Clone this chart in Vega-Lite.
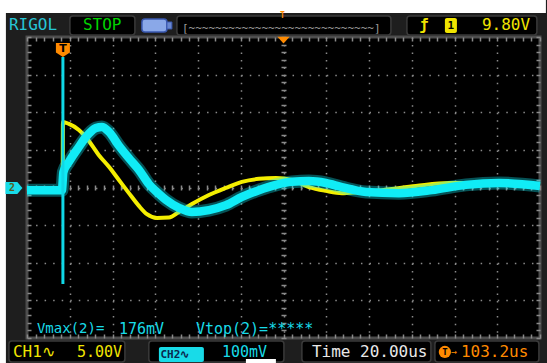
{
  "$schema": "https://vega.github.io/schema/vega-lite/v6.json",
  "width": 513,
  "height": 301,
  "autosize": {"type": "none"},
  "padding": {"left": 27, "top": 37, "right": 7, "bottom": 25},
  "background": "#1e1e1e",
  "view": {"fill": "#000000", "stroke": "#4d4d4d", "strokeWidth": 3},
  "config": {
    "axis": {"labels": false, "domain": false, "ticks": false, "grid": false, "titleOpacity": 0},
    "text": {"font": "DejaVu Sans Mono", "fontSize": 16, "baseline": "middle", "align": "left"}
  },
  "resolve": {"axis": {"x": "independent", "y": "independent"}},
  "data": {"values": [{}]},
  "datasets": {
    "ch1": [
      {"t": -16.8, "div": -0.01}, {"t": -0.1, "div": -0.01}, {"t": 0, "div": 1.74}, {"t": 2.81, "div": 1.69},
      {"t": 7.49, "div": 1.53}, {"t": 10.76, "div": 1.34}, {"t": 16.84, "div": 0.86}, {"t": 21.52, "div": 0.55},
      {"t": 26.2, "div": 0.2}, {"t": 30.88, "div": -0.15}, {"t": 35.56, "div": -0.49}, {"t": 39.3, "div": -0.71},
      {"t": 43.98, "div": -0.81}, {"t": 49.59, "div": -0.8}, {"t": 54.27, "div": -0.65}, {"t": 60.35, "div": -0.44},
      {"t": 68.3, "div": -0.2}, {"t": 76.26, "div": -0.01}, {"t": 83.74, "div": 0.15}, {"t": 91.7, "div": 0.23},
      {"t": 99.65, "div": 0.25}, {"t": 107.1, "div": 0.2}, {"t": 115.1, "div": 0.01}, {"t": 123.0, "div": -0.09},
      {"t": 130.5, "div": -0.15}, {"t": 138.5, "div": -0.12}, {"t": 149.2, "div": -0.07}, {"t": 165.1, "div": 0.04},
      {"t": 180.6, "div": 0.12}, {"t": 204.0, "div": 0.12}, {"t": 223.2, "div": 0.07}
    ],
    "ch2": [
      {"t": -16.8, "div": -0.07}, {"t": -0.47, "div": -0.07}, {"t": 0.23, "div": 0.41}, {"t": 2.81, "div": 0.68},
      {"t": 7.49, "div": 1.08}, {"t": 10.76, "div": 1.34}, {"t": 15.44, "div": 1.58}, {"t": 18.25, "div": 1.61},
      {"t": 21.52, "div": 1.48}, {"t": 26.2, "div": 1.11}, {"t": 30.88, "div": 0.78}, {"t": 35.56, "div": 0.47},
      {"t": 40.23, "div": 0.09}, {"t": 44.91, "div": -0.17}, {"t": 48.19, "div": -0.33}, {"t": 54.27, "div": -0.54},
      {"t": 60.35, "div": -0.65}, {"t": 68.3, "div": -0.6}, {"t": 76.26, "div": -0.47}, {"t": 83.74, "div": -0.25},
      {"t": 91.7, "div": -0.07}, {"t": 99.65, "div": 0.07}, {"t": 107.1, "div": 0.15}, {"t": 115.1, "div": 0.17},
      {"t": 123.0, "div": 0.12}, {"t": 130.5, "div": 0.01}, {"t": 141.8, "div": -0.12}, {"t": 157.2, "div": -0.15},
      {"t": 172.6, "div": -0.07}, {"t": 188.5, "div": 0.07}, {"t": 204.0, "div": 0.12}, {"t": 223.2, "div": 0.04}
    ]
  },
  "layer": [
    {"mark": {"type": "rect", "fill": "#ffffff"}, "encoding": {"x": {"datum": -29.94, "type": "quantitative"}, "x2": {"datum": 225.96}, "y": {"datum": 4.983, "type": "quantitative"}, "y2": {"datum": 4.638}}},
    {"mark": {"type": "rect", "fill": "#ffffff"}, "encoding": {"x": {"datum": -29.94, "type": "quantitative"}, "x2": {"datum": -26.67}, "y": {"datum": 4.983, "type": "quantitative"}, "y2": {"datum": -4.664}}},
    {"mark": {"type": "rect", "fill": "#000000", "stroke": "#3a3a3a", "strokeWidth": 1.5, "cornerRadius": 3}, "encoding": {"x": {"datum": 3.27, "type": "quantitative"}, "x2": {"datum": 33.68}, "y": {"datum": 4.558, "type": "quantitative"}, "y2": {"datum": 4.053}}},
    {"mark": {"type": "rect", "fill": "#000000", "stroke": "#3a3a3a", "strokeWidth": 1.5, "cornerRadius": 3}, "encoding": {"x": {"datum": 53.33, "type": "quantitative"}, "x2": {"datum": 153.45}, "y": {"datum": 4.558, "type": "quantitative"}, "y2": {"datum": 4.053}}},
    {"mark": {"type": "rect", "fill": "#000000", "stroke": "#3a3a3a", "strokeWidth": 1.5, "cornerRadius": 3}, "encoding": {"x": {"datum": 160.94, "type": "quantitative"}, "x2": {"datum": 221.75}, "y": {"datum": 4.558, "type": "quantitative"}, "y2": {"datum": 4.053}}},
    {"mark": {"type": "rect", "fill": "#000000", "stroke": "#3a3a3a", "strokeWidth": 1.5, "cornerRadius": 3}, "encoding": {"x": {"datum": -25.26, "type": "quantitative"}, "x2": {"datum": 29.0}, "y": {"datum": -4.08, "type": "quantitative"}, "y2": {"datum": -4.638}}},
    {"mark": {"type": "rect", "fill": "#000000", "stroke": "#3a3a3a", "strokeWidth": 1.5, "cornerRadius": 3}, "encoding": {"x": {"datum": 40.2, "type": "quantitative"}, "x2": {"datum": 103.4}, "y": {"datum": -4.08, "type": "quantitative"}, "y2": {"datum": -4.638}}},
    {"mark": {"type": "rect", "fill": "#000000", "stroke": "#3a3a3a", "strokeWidth": 1.5, "cornerRadius": 3}, "encoding": {"x": {"datum": 111.8, "type": "quantitative"}, "x2": {"datum": 172.16}, "y": {"datum": -4.08, "type": "quantitative"}, "y2": {"datum": -4.638}}},
    {"mark": {"type": "rect", "fill": "#000000", "stroke": "#3a3a3a", "strokeWidth": 1.5, "cornerRadius": 3}, "encoding": {"x": {"datum": 174.03, "type": "quantitative"}, "x2": {"datum": 222.69}, "y": {"datum": -4.08, "type": "quantitative"}, "y2": {"datum": -4.638}}},
    {"mark": {"type": "rect", "fill": "#8aa8e8", "stroke": "#3a58b0", "strokeWidth": 1.5, "cornerRadius": 3}, "encoding": {"x": {"datum": 36.96, "type": "quantitative"}, "x2": {"datum": 48.65}, "y": {"datum": 4.478, "type": "quantitative"}, "y2": {"datum": 4.133}}},
    {"mark": {"type": "rect", "fill": "#6a88d0", "stroke": "#3a58b0", "strokeWidth": 1}, "encoding": {"x": {"datum": 48.65, "type": "quantitative"}, "x2": {"datum": 50.99}, "y": {"datum": 4.399, "type": "quantitative"}, "y2": {"datum": 4.213}}},
    {"mark": {"type": "rect", "fill": "#f0e400", "cornerRadius": 2}, "encoding": {"x": {"datum": 178.71, "type": "quantitative"}, "x2": {"datum": 184.33}, "y": {"datum": 4.505, "type": "quantitative"}, "y2": {"datum": 4.106}}},
    {"mark": {"type": "rect", "fill": "#18dbe8", "cornerRadius": 2}, "encoding": {"x": {"datum": 44.91, "type": "quantitative"}, "x2": {"datum": 65.96}, "y": {"datum": -4.239, "type": "quantitative"}, "y2": {"datum": -4.638}}},
    {"mark": {"type": "rect", "fill": "#ffffff"}, "encoding": {"x": {"datum": 85.61, "type": "quantitative"}, "x2": {"datum": 99.65}, "y": {"datum": -4.558, "type": "quantitative"}, "y2": {"datum": -4.664}}},
    {
      "data": {"name": "ch1"},
      "mark": {"type": "line", "color": "#f4ee00", "strokeWidth": 4, "interpolate": "monotone"},
      "encoding": {
        "x": {"field": "t", "type": "quantitative", "title": null, "scale": {"domain": [-16.8, 223.2], "nice": false, "zero": false},
          "axis": {"orient": "bottom", "grid": true, "values": [3.2, 23.2, 43.2, 63.2, 83.2, 103.2, 123.2, 143.2, 163.2, 183.2, 203.2], "gridColor": "#8a8a8a", "gridWidth": 1.5, "gridDash": [1.5, 6.03], "gridOpacity": 1}},
        "y": {"field": "div", "type": "quantitative", "title": null, "scale": {"domain": [-4, 4], "nice": false, "zero": false},
          "axis": {"orient": "left", "grid": true, "values": [-3, -2, -1, 0, 1, 2, 3], "gridColor": "#8a8a8a", "gridWidth": 1.5, "gridDash": [1.5, 7.05], "gridOpacity": 1}}
      }
    },
    {
      "data": {"name": "ch2"},
      "mark": {"type": "line", "color": "#10ecf6", "strokeWidth": 13, "opacity": 0.35, "interpolate": "monotone"},
      "encoding": {
        "x": {"field": "t", "type": "quantitative", "title": null},
        "y": {"field": "div", "type": "quantitative", "title": null}
      }
    },
    {
      "data": {"name": "ch2"},
      "mark": {"type": "line", "color": "#10ecf6", "strokeWidth": 8.5, "interpolate": "monotone"},
      "encoding": {
        "x": {"field": "t", "type": "quantitative", "title": null,
          "axis": {"orient": "bottom", "offset": -153, "ticks": true, "tickSize": 5, "tickWidth": 1.5, "tickColor": "#8a8a8a",
            "values": [-16.8, -12.8, -8.8, -4.8, -0.8, 3.2, 7.2, 11.2, 15.2, 19.2, 23.2, 27.2, 31.2, 35.2, 39.2, 43.2, 47.2, 51.2, 55.2, 59.2, 63.2, 67.2, 71.2, 75.2, 79.2, 83.2, 87.2, 91.2, 95.2, 99.2, 103.2, 107.2, 111.2, 115.2, 119.2, 123.2, 127.2, 131.2, 135.2, 139.2, 143.2, 147.2, 151.2, 155.2, 159.2, 163.2, 167.2, 171.2, 175.2, 179.2, 183.2, 187.2, 191.2, 195.2, 199.2, 203.2, 207.2, 211.2, 215.2, 219.2, 223.2]}},
        "y": {"field": "div", "type": "quantitative", "title": null,
          "axis": {"orient": "left", "offset": -259, "ticks": true, "tickSize": 5, "tickWidth": 1.5, "tickColor": "#8a8a8a",
            "values": [-4, -3.8, -3.6, -3.4, -3.2, -3, -2.8, -2.6, -2.4, -2.2, -2, -1.8, -1.6, -1.4, -1.2, -1, -0.8, -0.6, -0.4, -0.2, 0, 0.2, 0.4, 0.6, 0.8, 1, 1.2, 1.4, 1.6, 1.8, 2, 2.2, 2.4, 2.6, 2.8, 3, 3.2, 3.4, 3.6, 3.8, 4]}}
      }
    },
    {
      "mark": {"type": "rule", "color": "#10d8e6", "strokeWidth": 3},
      "encoding": {
        "x": {"datum": 0, "type": "quantitative",
          "axis": {"orient": "top", "offset": -4, "ticks": true, "tickSize": 4, "tickWidth": 1.5, "tickColor": "#8a8a8a",
            "values": [-16.8, -12.8, -8.8, -4.8, -0.8, 3.2, 7.2, 11.2, 15.2, 19.2, 23.2, 27.2, 31.2, 35.2, 39.2, 43.2, 47.2, 51.2, 55.2, 59.2, 63.2, 67.2, 71.2, 75.2, 79.2, 83.2, 87.2, 91.2, 95.2, 99.2, 103.2, 107.2, 111.2, 115.2, 119.2, 123.2, 127.2, 131.2, 135.2, 139.2, 143.2, 147.2, 151.2, 155.2, 159.2, 163.2, 167.2, 171.2, 175.2, 179.2, 183.2, 187.2, 191.2, 195.2, 199.2, 203.2, 207.2, 211.2, 215.2, 219.2, 223.2]}},
        "y": {"datum": 3.468, "type": "quantitative",
          "axis": {"orient": "right", "offset": -4, "ticks": true, "tickSize": 4, "tickWidth": 1.5, "tickColor": "#8a8a8a",
            "values": [-4, -3.8, -3.6, -3.4, -3.2, -3, -2.8, -2.6, -2.4, -2.2, -2, -1.8, -1.6, -1.4, -1.2, -1, -0.8, -0.6, -0.4, -0.2, 0, 0.2, 0.4, 0.6, 0.8, 1, 1.2, 1.4, 1.6, 1.8, 2, 2.2, 2.4, 2.6, 2.8, 3, 3.2, 3.4, 3.6, 3.8, 4]}},
        "y2": {"datum": -2.565}
      }
    },
    {
      "mark": {"type": "point", "shape": "M-1,-1L1,-1L1,0.35L0,1L-1,0.35Z", "filled": true, "fill": "#ff8a00", "size": 196, "strokeWidth": 0, "opacity": 1},
      "encoding": {
        "x": {"datum": 0, "type": "quantitative",
          "axis": {"orient": "bottom", "offset": -4, "ticks": true, "tickSize": 4, "tickWidth": 1.5, "tickColor": "#8a8a8a",
            "values": [-16.8, -12.8, -8.8, -4.8, -0.8, 3.2, 7.2, 11.2, 15.2, 19.2, 23.2, 27.2, 31.2, 35.2, 39.2, 43.2, 47.2, 51.2, 55.2, 59.2, 63.2, 67.2, 71.2, 75.2, 79.2, 83.2, 87.2, 91.2, 95.2, 99.2, 103.2, 107.2, 111.2, 115.2, 119.2, 123.2, 127.2, 131.2, 135.2, 139.2, 143.2, 147.2, 151.2, 155.2, 159.2, 163.2, 167.2, 171.2, 175.2, 179.2, 183.2, 187.2, 191.2, 195.2, 199.2, 203.2, 207.2, 211.2, 215.2, 219.2, 223.2]}},
        "y": {"datum": 3.654, "type": "quantitative",
          "axis": {"orient": "left", "offset": -4, "ticks": true, "tickSize": 4, "tickWidth": 1.5, "tickColor": "#8a8a8a",
            "values": [-4, -3.8, -3.6, -3.4, -3.2, -3, -2.8, -2.6, -2.4, -2.2, -2, -1.8, -1.6, -1.4, -1.2, -1, -0.8, -0.6, -0.4, -0.2, 0, 0.2, 0.4, 0.6, 0.8, 1, 1.2, 1.4, 1.6, 1.8, 2, 2.2, 2.4, 2.6, 2.8, 3, 3.2, 3.4, 3.6, 3.8, 4]}}
      }
    },
    {"mark": {"type": "text", "text": "T", "color": "#000000", "fontSize": 11, "fontWeight": "bold", "align": "center", "font": "DejaVu Sans"}, "encoding": {"x": {"datum": 0, "type": "quantitative"}, "y": {"datum": 3.69, "type": "quantitative"}}},
    {"mark": {"type": "point", "shape": "M-1,-0.55L1,-0.55L0,0.55Z", "filled": true, "fill": "#ff8a00", "size": 150, "strokeWidth": 0, "opacity": 1}, "encoding": {"x": {"datum": 103.2, "type": "quantitative"}, "y": {"datum": 3.92, "type": "quantitative"}}},
    {"mark": {"type": "point", "shape": "M-1,-0.7L0.4,-0.7L1,0L0.4,0.7L-1,0.7Z", "filled": true, "fill": "#18dbe8", "size": 289, "strokeWidth": 0, "opacity": 1}, "encoding": {"x": {"datum": -22.92, "type": "quantitative"}, "y": {"datum": -0.013, "type": "quantitative"}}},
    {"mark": {"type": "text", "text": "2", "color": "#5a5a20", "fontSize": 10, "fontWeight": "bold", "align": "center"}, "encoding": {"x": {"datum": -23.8, "type": "quantitative"}, "y": {"datum": -0.013, "type": "quantitative"}}},
    {"mark": {"type": "text", "text": "RIGOL", "color": "#27c6d6"}, "encoding": {"x": {"datum": -25.26, "type": "quantitative"}, "y": {"datum": 4.319, "type": "quantitative"}}},
    {"mark": {"type": "text", "text": "STOP", "color": "#00d200"}, "encoding": {"x": {"datum": 9.36, "type": "quantitative"}, "y": {"datum": 4.319, "type": "quantitative"}}},
    {"mark": {"type": "text", "text": "[~~~~~~~~~~~~~~~~~~~~~~~~~~~~]", "color": "#9a9a9a", "fontSize": 11}, "encoding": {"x": {"datum": 55.67, "type": "quantitative"}, "y": {"datum": 4.22, "type": "quantitative"}}},
    {"mark": {"type": "text", "text": "T", "color": "#ff8a00", "fontSize": 8, "fontWeight": "bold", "align": "center"}, "encoding": {"x": {"datum": 102.7, "type": "quantitative"}, "y": {"datum": 4.56, "type": "quantitative"}}},
    {"mark": {"type": "text", "text": "ƒ", "color": "#f0e400", "fontSize": 15, "fontWeight": "bold", "align": "center"}, "encoding": {"x": {"datum": 168.9, "type": "quantitative"}, "y": {"datum": 4.319, "type": "quantitative"}}},
    {"mark": {"type": "text", "text": "1", "color": "#000000", "fontSize": 11, "fontWeight": "bold", "align": "center"}, "encoding": {"x": {"datum": 181.52, "type": "quantitative"}, "y": {"datum": 4.3, "type": "quantitative"}}},
    {"mark": {"type": "text", "text": "9.80V", "color": "#f0e400"}, "encoding": {"x": {"datum": 196.02, "type": "quantitative"}, "y": {"datum": 4.319, "type": "quantitative"}}},
    {"mark": {"type": "text", "text": "Vmax(2)=", "color": "#18dbe8", "fontSize": 14}, "encoding": {"x": {"datum": -12.16, "type": "quantitative"}, "y": {"datum": -3.761, "type": "quantitative"}}},
    {"mark": {"type": "text", "text": "176mV", "color": "#18dbe8", "fontSize": 15}, "encoding": {"x": {"datum": 26.2, "type": "quantitative"}, "y": {"datum": -3.761, "type": "quantitative"}}},
    {"mark": {"type": "text", "text": "Vtop(2)=*****", "color": "#18dbe8", "fontSize": 15}, "encoding": {"x": {"datum": 62.22, "type": "quantitative"}, "y": {"datum": -3.761, "type": "quantitative"}}},
    {"mark": {"type": "text", "text": "CH1∿", "color": "#f0e400"}, "encoding": {"x": {"datum": -23.39, "type": "quantitative"}, "y": {"datum": -4.372, "type": "quantitative"}}},
    {"mark": {"type": "text", "text": "5.00V", "color": "#f0e400", "fontSize": 15}, "encoding": {"x": {"datum": 6.55, "type": "quantitative"}, "y": {"datum": -4.372, "type": "quantitative"}}},
    {"mark": {"type": "text", "text": "CH2∿", "color": "#0a2a50", "fontSize": 11, "fontWeight": "bold"}, "encoding": {"x": {"datum": 45.6, "type": "quantitative"}, "y": {"datum": -4.44, "type": "quantitative"}}},
    {"mark": {"type": "text", "text": "100mV", "color": "#18dbe8", "fontSize": 15}, "encoding": {"x": {"datum": 74.39, "type": "quantitative"}, "y": {"datum": -4.372, "type": "quantitative"}}},
    {"mark": {"type": "text", "text": "Time 20.00us", "color": "#e8e8e8"}, "encoding": {"x": {"datum": 116.49, "type": "quantitative"}, "y": {"datum": -4.372, "type": "quantitative"}}},
    {"mark": {"type": "point", "shape": "circle", "filled": true, "fill": "#ff8a00", "size": 150, "strokeWidth": 0, "opacity": 1}, "encoding": {"x": {"datum": 178.7, "type": "quantitative"}, "y": {"datum": -4.372, "type": "quantitative"}}},
    {"mark": {"type": "text", "text": "T", "color": "#000000", "fontSize": 9, "fontWeight": "bold", "align": "center"}, "encoding": {"x": {"datum": 178.7, "type": "quantitative"}, "y": {"datum": -4.372, "type": "quantitative"}}},
    {"mark": {"type": "text", "text": "→", "color": "#ff8a00", "fontSize": 10}, "encoding": {"x": {"datum": 181.5, "type": "quantitative"}, "y": {"datum": -4.372, "type": "quantitative"}}},
    {"mark": {"type": "text", "text": "103.2us", "color": "#ff8a00"}, "encoding": {"x": {"datum": 186.2, "type": "quantitative"}, "y": {"datum": -4.372, "type": "quantitative"}}}
  ]
}
